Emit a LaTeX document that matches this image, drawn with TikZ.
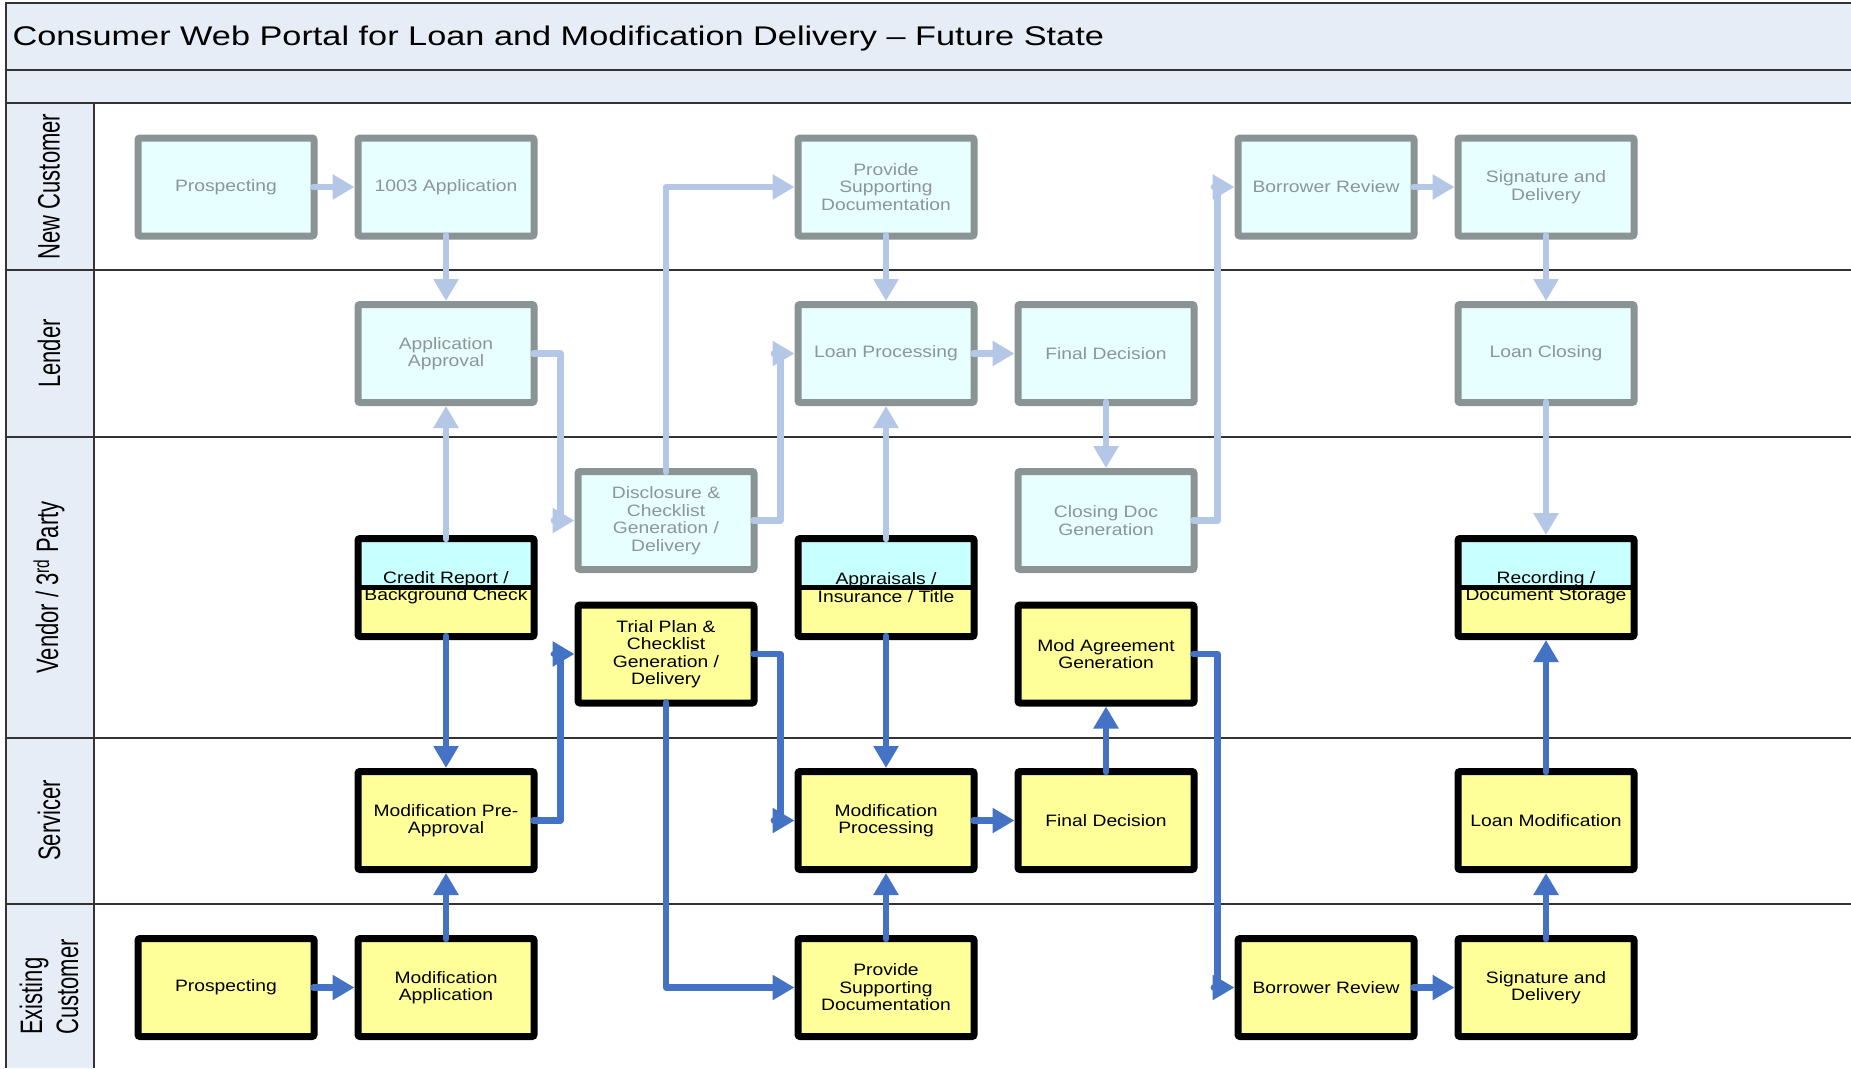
\documentclass[tikz,border=0pt]{standalone}
\usepackage{fontspec}
\setmainfont{Liberation Sans}
\newfontfamily\titlefont[FakeStretch=1.27]{Liberation Sans}
\newfontfamily\boxfont[FakeStretch=1.17]{Liberation Sans}
\newfontfamily\lanefont[FakeStretch=0.71]{Liberation Sans}
\usepackage{tikz}
\usetikzlibrary{positioning,calc,arrows.meta}
\definecolor{flowblue}{RGB}{68,114,196}
\definecolor{paleflow}{RGB}{180,199,231}
\definecolor{bandfill}{RGB}{230,237,247}
\definecolor{palecyan}{RGB}{232,255,255}
\definecolor{splitcyan}{RGB}{200,255,255}
\definecolor{boxyellow}{RGB}{255,255,153}
\definecolor{boxgray}{RGB}{138,148,148}
\definecolor{textgray}{RGB}{140,150,150}

\begin{document}
\begin{tikzpicture}[
					x=1pt, y=-1pt,
					% Buoc hien tai (nhat, vien xam)
					lbox/.style={
						rectangle, rounded corners=2pt, draw=boxgray, line width=7pt, fill=palecyan,
						minimum width=176pt, minimum height=98pt, inner sep=0pt, align=center,
						font=\boxfont\fontsize{16.5}{17.5}\selectfont, text=textgray
					},
					% Buoc qua portal (vang, vien den)
					ybox/.style={
						rectangle, rounded corners=2pt, draw=black, line width=7pt, fill=boxyellow,
						minimum width=176pt, minimum height=98pt, inner sep=0pt, align=center,
						font=\boxfont\fontsize{16.5}{17.5}\selectfont, text=black
					},
					% Vendor dung chung (nua tren xanh, nua duoi vang)
					sbox/.style={
						ybox,
						path picture={
							\fill[splitcyan] (path picture bounding box.north west) rectangle (path picture bounding box.east);
							\draw[black, line width=5pt] (path picture bounding box.west) -- (path picture bounding box.east);
						}
					},
					% Ten lan (xoay doc)
					lanelbl/.style={
						rotate=90, align=left, inner sep=0pt,
						font=\lanefont\fontsize{31}{36}\selectfont
					},
					sep/.style={draw=black!80, line width=1.5pt},
					lflow/.style={
						draw=paleflow, line width=6.5pt, line cap=round, line join=round,
						shorten <=-4pt, -{Triangle[length=22pt, width=24pt]}
					},
					dflow/.style={
						draw=flowblue, line width=6.5pt, line cap=round, line join=round,
						shorten <=-4pt, -{Triangle[length=22pt, width=24pt]}
					}
					]
					
					\useasboundingbox (0,0) rectangle (1851,1068);
					
					% --- 1. KHUNG VA CAC LAN ---
					\fill[white] (0,0) rectangle (1851,1068);
					\fill[bandfill] (6,3) rectangle (1851,103);
					\fill[bandfill] (6,103) rectangle (94,1068);
					\draw[sep] (6,1068) -- (6,3) -- (1851,3);
					\draw[sep] (6,70) -- (1851,70);
					\foreach \y in {103,270,437,738,904}
						\draw[sep] (6,\y) -- (1851,\y);
					\draw[sep] (94,103) -- (94,1068);
					
					\node[anchor=base west, font=\titlefont\fontsize{27}{32}\selectfont] (title) at (9,45.5)
						{Consumer Web Portal for Loan and Modification Delivery – Future State};
					
					\foreach \y/\txt [count=\i] in {186.5/New Customer, 353.5/Lender,
						587.5/{Vendor / 3\textsuperscript{rd} Party}, 820.5/Servicer, 987/{Existing\\Customer}}
						\node[lanelbl] (lane\i) at (49,\y) {\txt};
					
					% --- 2. NEW CUSTOMER / LENDER ---
					\node[lbox] (nc1) at (226,187) {Prospecting};
					\node[lbox] (nc2) at (446,187) {1003 Application};
					\node[lbox] (nc3) at (886,187) {Provide\\Supporting\\Documentation};
					\node[lbox] (nc4) at (1326,187) {Borrower Review};
					\node[lbox] (nc5) at (1546,187) {Signature and\\Delivery};
					
					\node[lbox] (ld1) at (446,353.5) {Application\\Approval};
					\node[lbox] (ld2) at (886,353.5) {Loan Processing};
					\node[lbox] (ld3) at (1106,353.5) {Final Decision};
					\node[lbox] (ld4) at (1546,353.5) {Loan Closing};
					
					% --- 3. VENDOR / 3RD PARTY ---
					\node[lbox] (vd1) at (666,520.5) {Disclosure \&\\Checklist\\Generation /\\Delivery};
					\node[lbox] (vd2) at (1106,520.5) {Closing Doc\\Generation};
					\node[sbox] (vd3) at (446,587.5) {Credit Report /\\Background Check};
					\node[sbox] (vd4) at (886,587.5) {Appraisals /\\Insurance / Title};
					\node[sbox] (vd5) at (1546,587.5) {Recording /\\Document Storage};
					\node[ybox] (vd6) at (666,654) {Trial Plan \&\\Checklist\\Generation /\\Delivery};
					\node[ybox] (vd7) at (1106,654) {Mod Agreement\\Generation};
					
					% --- 4. SERVICER / EXISTING CUSTOMER ---
					\node[ybox] (sv1) at (446,820.5) {Modification Pre-\\Approval};
					\node[ybox] (sv2) at (886,820.5) {Modification\\Processing};
					\node[ybox] (sv3) at (1106,820.5) {Final Decision};
					\node[ybox] (sv4) at (1546,820.5) {Loan Modification};
					
					\node[ybox] (ec1) at (226,987.5) {Prospecting};
					\node[ybox] (ec2) at (446,987.5) {Modification\\Application};
					\node[ybox] (ec3) at (886,987.5) {Provide\\Supporting\\Documentation};
					\node[ybox] (ec4) at (1326,987.5) {Borrower Review};
					\node[ybox] (ec5) at (1546,987.5) {Signature and\\Delivery};
					
					% --- 5. LUONG HIEN TAI (NHAT) ---
					\draw[lflow] (nc1) -- (nc2);
					\draw[lflow] (nc2) -- (ld1);
					\draw[lflow] (ld1.east) -- ++(23,0) |- (vd1.west);
					\draw[lflow] (vd1.north) |- (nc3.west);
					\draw[lflow] (vd1.east) -- ++(23,0) |- (ld2.west);
					\draw[lflow] (nc3) -- (ld2);
					\draw[lflow] (vd4) -- (ld2);
					\draw[lflow] (vd3) -- (ld1);
					\draw[lflow] (ld2) -- (ld3);
					\draw[lflow] (ld3) -- (vd2);
					\draw[lflow] (vd2.east) -- ++(20,0) |- (nc4.west);
					\draw[lflow] (nc4) -- (nc5);
					\draw[lflow] (nc5) -- (ld4);
					\draw[lflow] (ld4) -- (vd5);
					
					% --- 6. LUONG QUA PORTAL (DAM) ---
					\draw[dflow] (vd3) -- (sv1);
					\draw[dflow] (sv1.east) -- ++(23,0) |- (vd6.west);
					\draw[dflow] (vd6.east) -- ++(23,0) |- (sv2.west);
					\draw[dflow] (vd6.south) |- (ec3.west);
					\draw[dflow] (vd4) -- (sv2);
					\draw[dflow] (ec3) -- (sv2);
					\draw[dflow] (sv2) -- (sv3);
					\draw[dflow] (sv3) -- (vd7);
					\draw[dflow] (vd7.east) -- ++(20,0) |- (ec4.west);
					\draw[dflow] (ec1) -- (ec2);
					\draw[dflow] (ec2) -- (sv1);
					\draw[dflow] (ec4) -- (ec5);
					\draw[dflow] (ec5) -- (sv4);
					\draw[dflow] (sv4) -- (vd5);
				\end{tikzpicture}
\end{document}
